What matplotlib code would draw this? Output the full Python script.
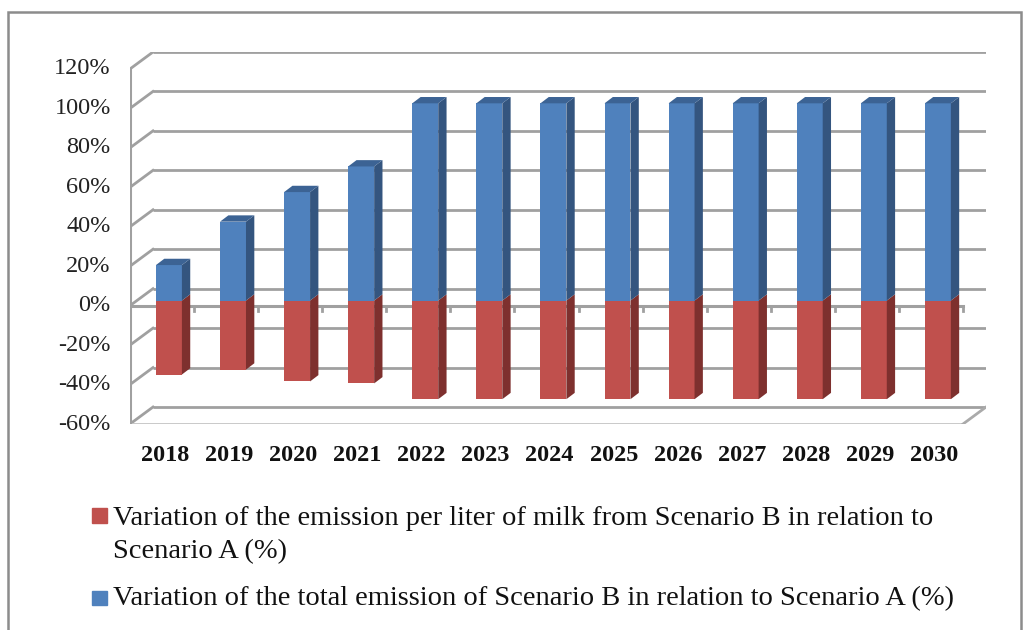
import matplotlib
matplotlib.use('Agg')
import numpy as np
import matplotlib.pyplot as plt
from matplotlib.patches import Polygon, Rectangle

# data (percent)
years = ['2018', '2019', '2020', '2021', '2022', '2023', '2024',
         '2025', '2026', '2027', '2028', '2029', '2030']
total_var = [18, 40, 55, 68, 100, 100, 100, 100, 100, 100, 100, 100, 100]
per_liter_var = [-37.5, -35, -41, -42, -50, -50, -50, -50, -50, -50, -50, -50, -50]
y_ticks = [-60, -40, -20, 0, 20, 40, 60, 80, 100, 120]
label_red = ['Variation of the emission per liter of milk from Scenario B in relation to',
             'Scenario A (%)']
label_blue = 'Variation of the total emission of Scenario B in relation to Scenario A (%)'

blue, blue_side, blue_top = '#4f81bd', '#34557f', '#3c6394'
red, red_side = '#c0504d', '#7e302e'
grid_c = '#a0a0a0'
serif = ['Liberation Serif', 'DejaVu Serif']

W, H = 1031, 630
fig = plt.figure(figsize=(W / 100, H / 100), dpi=100)

# outer chart frame
fig.patches.append(Rectangle((8 / W, -0.05), (1021 - 8) / W, 1.05 - 12 / H,
                             transform=fig.transFigure, fill=False,
                             edgecolor='#8c8c8c', linewidth=1.8))

n = len(years)
dxc = 0.3585      # wall depth, in category units
dyv = 8.6         # wall depth, in percent units
ax = fig.add_axes([130 / W, 1 - 424 / H, 856 / W, (424 - 52) / H])
ax.set_xlim(0, n + dxc)
ax.set_ylim(-60, 120 + dyv)
ax.axis('off')

# back wall gridlines + left wall diagonals
for v in y_ticks:
    ax.plot([dxc, n + dxc], [v + dyv, v + dyv], color=grid_c, lw=2.0, zorder=1,
            solid_capstyle='butt')
    ax.plot([0, dxc], [v, v + dyv], color=grid_c, lw=2.0, zorder=1)
    ax.plot([-0.08, 0], [v, v], color=grid_c, lw=2.0, zorder=1)
    ax.text(-0.3, v, f'{v}%', ha='right', va='center', fontsize=17.5,
            family=serif, color='#222222')

# floor
ax.plot([0, n], [-60, -60], color='#c4c4c4', lw=2.0, zorder=1)
ax.plot([n, n + dxc], [-60, -60 + dyv], color='#aaaaaa', lw=2.0, zorder=1)
ax.plot([0, 0], [-60, 120], color=grid_c, lw=2.2, zorder=1)

# front zero axis with category ticks
ax.plot([0, n], [0, 0], color=grid_c, lw=2.2, zorder=1)
for k in range(1, n + 1):
    ax.plot([k, k], [0, -2.8], color=grid_c, lw=2.0, zorder=1)

# bars sit a bit behind the front plane
f = 0.3
ox, oy = f * dxc, f * dyv
w = 0.405
sdx, sdy = 0.13, 3.2
xs = np.arange(n) + 0.5 + ox

ax.bar(xs, per_liter_var, width=w, bottom=oy, color=red, zorder=3)
ax.bar(xs, total_var, width=w, bottom=oy, color=blue, zorder=5)

for x, v in zip(xs, per_liter_var):
    xr = x + w / 2
    b, t = oy, oy + v
    ax.add_patch(Polygon([(xr, t), (xr + sdx, t + sdy), (xr + sdx, b + sdy), (xr, b)],
                         closed=True, facecolor=red_side, edgecolor='none', zorder=3))

for x, v in zip(xs, total_var):
    xl, xr = x - w / 2, x + w / 2
    b, t = oy, oy + v
    ax.add_patch(Polygon([(xr, b), (xr + sdx, b + sdy), (xr + sdx, t + sdy), (xr, t)],
                         closed=True, facecolor=blue_side, edgecolor='none', zorder=5))
    ax.add_patch(Polygon([(xl, t), (xr, t), (xr + sdx, t + sdy), (xl + sdx, t + sdy)],
                         closed=True, facecolor=blue_top, edgecolor='none', zorder=5))

for k, yr in enumerate(years):
    ax.text(k + 0.55, -76, yr, ha='center', va='center', fontsize=17.5,
            fontweight='bold', family=serif, color='#111111')

# legend
fig.patches.append(Rectangle((92 / W, 1 - 523 / H), 15 / W, 15 / H,
                             transform=fig.transFigure, color=red))
fig.patches.append(Rectangle((92 / W, 1 - 605 / H), 15 / W, 14 / H,
                             transform=fig.transFigure, color=blue))
for line, base in zip(label_red, [525, 558]):
    fig.text(113 / W, 1 - base / H, line, ha='left', va='baseline', fontsize=20.5,
             family=serif, color='#111111')
fig.text(113 / W, 1 - 605 / H, label_blue, ha='left', va='baseline', fontsize=20.5,
         family=serif, color='#111111')

fig.savefig('out.png', dpi=100)
